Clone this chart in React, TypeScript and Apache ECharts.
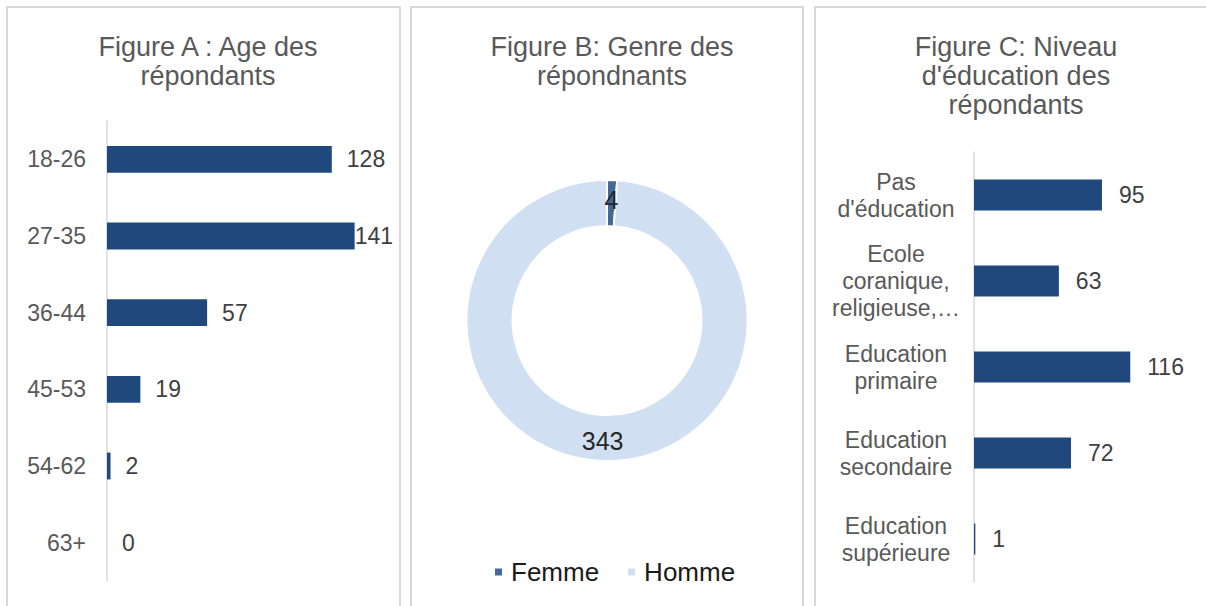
import React, { useEffect, useRef } from "react";
import * as echarts from "echarts";

const ageCategories = ["18-26", "27-35", "36-44", "45-53", "54-62", "63+"];
const ageValues = [128, 141, 57, 19, 2, 0];

const genderCategories = ["Femme", "Homme"];
const genderValues = [4, 343];

const eduCategories = [
  "Pas\nd'éducation",
  "Ecole\ncoranique,\nreligieuse,…",
  "Education\nprimaire",
  "Education\nsecondaire",
  "Education\nsupérieure",
];
const eduValues = [95, 63, 116, 72, 1];

const titles = [
  "Figure A : Age des\nrépondants",
  "Figure B: Genre des\nrépondnants",
  "Figure C: Niveau\nd'éducation des\nrépondants",
];

const FONT = "'Liberation Sans', Arial, sans-serif";
const BAR = "#1f497d";
const FEMME = "#44689c";
const HOMME = "#d0dff1";
const GRID_LINE = "#d9d9d9";

export default function App() {
  const ref = useRef<HTMLDivElement>(null);
  useEffect(() => {
    if (!ref.current) return;
    const chart = echarts.init(ref.current, null, { renderer: "svg" });

    // grid A geometry
    const aLeft = 107, aWidth = 281, aMax = 160, aPanelRight = 398;
    const aPx = aWidth / aMax;
    const ageData = ageValues.map((v) => {
      const end = aLeft + v * aPx;
      const labelW = String(v).length * 13;
      const clamp = end + 15 + labelW > aPanelRight;
      return clamp ? { value: v, label: { distance: 0 } } : v;
    });

    const panel = (x: number, w: number) => ({
      type: "rect",
      shape: { x, y: 7, width: w, height: 700 },
      style: { fill: "none", stroke: "#d9d9d9", lineWidth: 2 },
      silent: true,
      z: -1,
    });

    const titleCfg = (text: string, left: number) => ({
      text,
      left,
      top: 27,
      textAlign: "center",
      textStyle: {
        fontFamily: FONT,
        fontSize: 27,
        lineHeight: 29,
        fontWeight: "normal",
        color: "#595959",
      },
    });

    chart.setOption({
      animation: false,
      textStyle: { fontFamily: FONT },
      graphic: [panel(7, 393), panel(411, 392), panel(815, 400)],
      title: [
        titleCfg(titles[0], 203),
        titleCfg(titles[1], 607),
        titleCfg(titles[2], 1011),
      ],
      grid: [
        { left: aLeft, top: 121, width: aWidth, height: 460 },
        { left: 974, top: 152, width: 188.6, height: 430 },
      ],
      xAxis: [
        { type: "value", gridIndex: 0, min: 0, max: aMax, show: false },
        { type: "value", gridIndex: 1, min: 0, max: 140, show: false },
      ],
      yAxis: [
        {
          type: "category",
          gridIndex: 0,
          data: ageCategories,
          inverse: true,
          axisLine: { show: true, lineStyle: { color: GRID_LINE, width: 1.5 } },
          axisTick: { show: false },
          axisLabel: {
            color: "#595959",
            fontSize: 23,
            margin: 21,
            fontFamily: FONT,
          },
        },
        {
          type: "category",
          gridIndex: 1,
          data: eduCategories,
          inverse: true,
          axisLine: { show: true, lineStyle: { color: GRID_LINE, width: 1.5 } },
          axisTick: { show: false },
          axisLabel: {
            color: "#595959",
            fontSize: 23,
            lineHeight: 27,
            margin: 78,
            align: "center",
            fontFamily: FONT,
          },
        },
      ],
      legend: {
        data: genderCategories,
        left: 488,
        top: 554,
        itemWidth: 9,
        itemHeight: 9,
        itemGap: 27,
        icon: "rect",
        textStyle: {
          fontSize: 26,
          color: "#1a1a1a",
          fontFamily: FONT,
          padding: [0, 0, 0, 3],
        },
      },
      series: [
        {
          type: "bar",
          xAxisIndex: 0,
          yAxisIndex: 0,
          data: ageData,
          barWidth: "35%",
          itemStyle: { color: BAR },
          label: {
            show: true,
            position: "right",
            distance: 15,
            color: "#404040",
            fontSize: 23,
            fontFamily: FONT,
          },
        },
        {
          type: "bar",
          xAxisIndex: 1,
          yAxisIndex: 1,
          data: eduValues,
          barWidth: "36%",
          itemStyle: { color: BAR },
          label: {
            show: true,
            position: "right",
            distance: 17,
            color: "#404040",
            fontSize: 23,
            fontFamily: FONT,
          },
        },
        {
          type: "pie",
          center: [607, 320.5],
          radius: [94.5, 140.5],
          startAngle: 90,
          clockwise: true,
          avoidLabelOverlap: false,
          data: genderCategories.map((name, i) => ({
            name,
            value: genderValues[i],
            itemStyle: { color: i === 0 ? FEMME : HOMME },
          })),
          itemStyle: { borderColor: "#fff", borderWidth: 2 },
          label: {
            show: true,
            position: "inside",
            formatter: "{c}",
            fontSize: 25,
            color: "#262626",
            fontFamily: FONT,
          },
          labelLine: { show: false },
          emphasis: { disabled: true },
        },
      ],
    });
    return () => chart.dispose();
  }, []);
  return (
    <div
      ref={ref}
      style={{ position: "fixed", left: 0, top: 0, width: 1206, height: 606, background: "#fff" }}
    />
  );
}
